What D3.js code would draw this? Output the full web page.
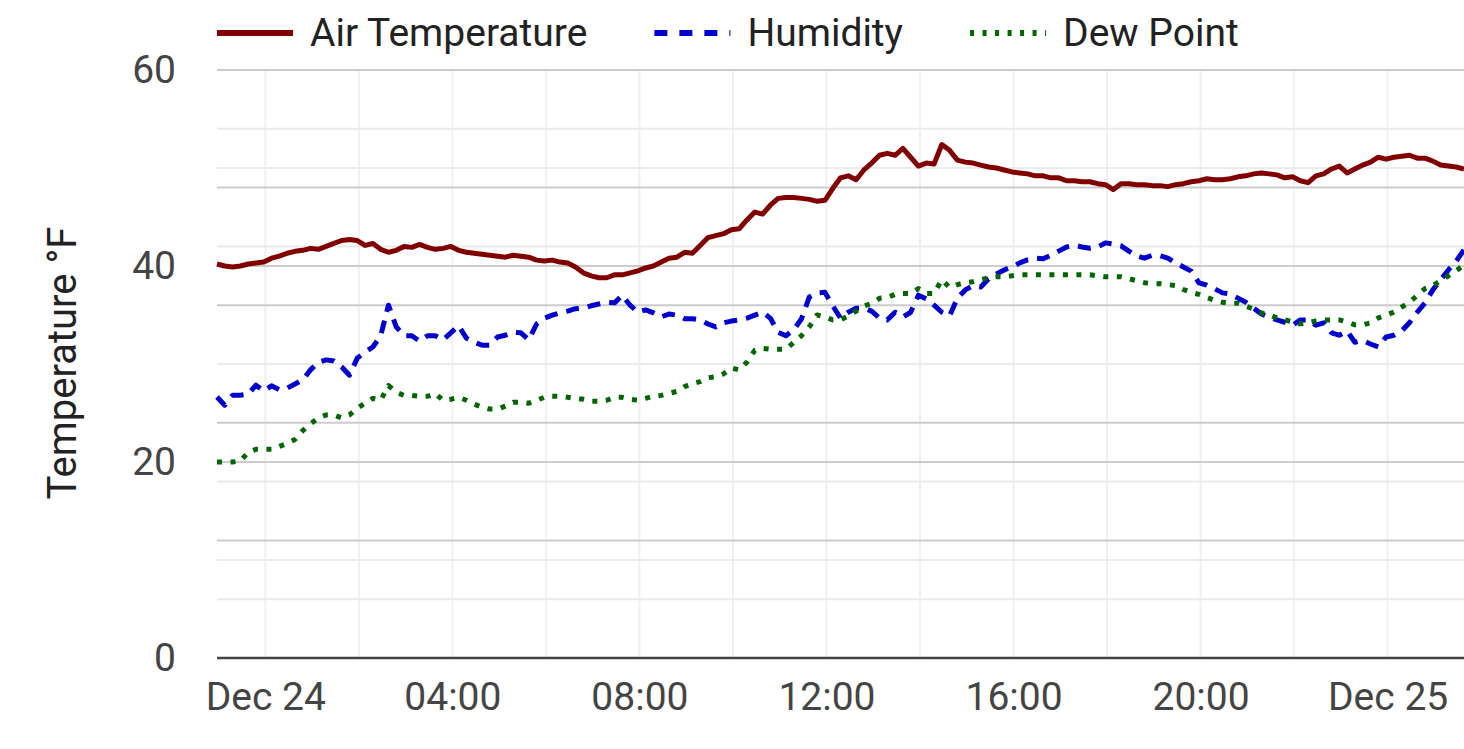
<!DOCTYPE html>
<html><head><meta charset="utf-8">
<script src="https://cdn.jsdelivr.net/npm/d3@7"></script>
<style>body{margin:0;background:#fff;} svg{display:block;font-family:Roboto, "Noto Sans", sans-serif;}</style>
</head><body><svg id="chart" width="1464" height="749"></svg>
<script>
const seriesNames = ["Air Temperature", "Humidity", "Dew Point"];
const startTime = "2023-12-23T22:58:00Z";
const endTime = "2023-12-25T01:38:00Z";
const stepMinutes = 10;

const airTemp = [
40.2,40.0,39.9,40.0,40.2,40.3,40.4,40.8,41.0,41.3,
41.5,41.6,41.8,41.7,42.0,42.3,42.6,42.7,42.6,42.1,
42.3,41.7,41.4,41.6,42.0,41.9,42.2,41.9,41.7,41.8,
42.0,41.6,41.4,41.3,41.2,41.1,41.0,40.9,41.1,41.0,
40.9,40.6,40.5,40.6,40.4,40.3,39.9,39.3,39.0,38.8,
38.8,39.1,39.1,39.3,39.5,39.8,40.0,40.4,40.8,40.9,
41.4,41.3,42.1,42.9,43.1,43.3,43.7,43.8,44.7,45.5,
45.3,46.2,46.9,47.0,47.0,46.9,46.8,46.6,46.7,47.9,
49.0,49.2,48.8,49.8,50.5,51.3,51.5,51.3,52.0,51.1,
50.2,50.5,50.4,52.4,51.8,50.8,50.6,50.5,50.3,50.1,
50.0,49.8,49.6,49.5,49.4,49.2,49.2,49.0,49.0,48.7,
48.7,48.6,48.6,48.4,48.3,47.8,48.4,48.4,48.3,48.3,
48.2,48.2,48.1,48.3,48.4,48.6,48.7,48.9,48.8,48.8,
48.9,49.1,49.2,49.4,49.5,49.4,49.3,49.0,49.1,48.7,
48.5,49.2,49.4,49.9,50.2,49.5,49.9,50.3,50.6,51.1,
50.9,51.1,51.2,51.3,51.0,51.0,50.7,50.3,50.2,50.1,
49.9];

const humidity = [
44.4,43.0,44.7,44.7,44.9,46.4,45.4,46.3,45.6,45.9,
46.6,47.3,49.0,50.3,50.7,50.5,49.5,48.1,51.0,52.0,
52.9,54.8,60.0,56.3,54.8,54.8,53.9,54.8,54.8,54.1,
55.3,56.5,54.4,53.7,53.2,53.2,54.6,54.9,55.4,55.3,
54.1,56.8,57.8,58.3,58.7,59.0,59.4,59.5,59.9,60.2,
60.5,60.4,61.7,60.0,58.8,59.2,58.7,58.0,58.5,58.3,
57.7,57.7,57.5,56.8,56.3,57.0,57.3,57.5,57.8,58.3,
58.8,57.8,55.4,54.8,55.8,57.7,61.4,62.1,62.2,59.9,
57.8,58.8,59.5,59.5,59.0,57.8,57.5,58.8,58.0,58.8,
61.7,61.1,60.0,58.8,58.2,61.2,62.6,63.3,63.1,64.5,
65.3,66.0,66.5,67.2,67.7,68.0,67.9,68.5,69.2,69.9,
70.2,69.9,69.7,69.9,70.6,70.4,70.1,69.2,68.4,68.0,
68.5,68.4,68.0,67.2,66.5,65.8,63.8,63.4,62.8,62.1,
61.9,61.2,60.5,59.5,58.5,58.0,57.5,57.1,56.6,57.5,
57.5,56.6,57.0,55.3,54.9,55.6,53.7,54.0,53.4,52.9,
54.6,54.9,55.6,57.0,58.8,60.4,62.6,64.3,66.0,67.5,
69.4];

const dewPoint = [
20.0,20.0,20.0,20.1,21.0,21.3,21.3,21.3,21.6,21.9,
22.3,23.2,23.9,24.5,24.8,24.8,24.5,24.8,25.5,26.0,
26.5,26.3,27.8,27.1,26.8,26.8,26.7,26.7,27.0,26.3,
26.4,26.6,26.3,25.9,25.6,25.4,25.4,25.7,26.1,26.1,
26.0,26.3,26.6,26.7,26.7,26.6,26.5,26.4,26.2,26.2,
26.3,26.6,26.6,26.4,26.3,26.5,26.7,26.8,27.0,27.2,
27.7,28.0,28.2,28.6,28.7,29.0,29.6,29.4,30.2,31.4,
31.6,31.5,31.5,31.5,32.2,32.9,33.8,35.0,34.8,34.5,
34.5,34.9,35.4,35.9,36.2,36.7,36.8,37.1,37.2,37.2,
37.7,37.2,37.2,38.6,37.8,38.1,38.3,38.4,38.6,38.8,
38.9,38.9,39.0,39.1,39.1,39.1,39.1,39.1,39.1,39.1,
39.1,39.1,39.1,39.0,38.9,38.9,38.9,38.7,38.5,38.3,
38.2,38.2,38.1,38.0,37.6,37.3,37.1,36.8,36.5,36.3,
36.2,36.2,35.9,35.6,35.2,35.0,34.7,34.5,34.3,34.1,
34.2,34.4,34.5,34.5,34.5,34.3,34.0,34.0,34.2,34.7,
35.0,35.3,35.8,36.3,37.0,37.7,38.0,38.5,39.0,39.5,
40.1];

const xTickTimes = ["2023-12-24T00:00:00Z","2023-12-24T04:00:00Z","2023-12-24T08:00:00Z",
  "2023-12-24T12:00:00Z","2023-12-24T16:00:00Z","2023-12-24T20:00:00Z","2023-12-25T00:00:00Z"];
const xTickLabels = ["Dec 24","04:00","08:00","12:00","16:00","20:00","Dec 25"];
const yTicks = [0, 20, 40, 60];
const yMinorTicks = [10, 30, 50];
const humidityTicks = [20, 40, 60, 80, 100];
const humidityMinorTicks = [10, 30, 50, 70, 90];
const yTitle = "Temperature °F";

const colors = ["#800000", "#0000cd", "#006400"];
const dashes = [null, "13,9", "5,8.5"];
const legendDashes = [null, "13,12", "4,8.5"];

(function draw() {
const times = airTemp.map((_, i) => new Date(Date.parse(startTime) + i * stepMinutes * 60000));

const svg = d3.select("#chart");
const pLeft = 217, pRight = 1464, pTop = 70, pBottom = 658;
const x = d3.scaleUtc().domain([new Date(startTime), new Date(endTime)]).range([pLeft, pRight]);
const y = d3.scaleLinear().domain([0, 60]).range([pBottom, pTop]);
const yH = d3.scaleLinear().domain([0, 100]).range([pBottom, pTop]);

// vertical grid (every 2 hours)
svg.append("g").selectAll("line").data(x.ticks(d3.utcHour.every(2))).join("line")
  .attr("x1", d => x(d)).attr("x2", d => x(d)).attr("y1", pTop).attr("y2", pBottom)
  .attr("stroke", "#f0f0f0").attr("stroke-width", 2);

// light horizontal grid
const lightY = yMinorTicks.map(v => y(v)).concat(humidityMinorTicks.map(v => yH(v)));
svg.append("g").selectAll("line").data(lightY).join("line")
  .attr("x1", pLeft).attr("x2", pRight).attr("y1", d => d).attr("y2", d => d)
  .attr("stroke", "#ebebeb").attr("stroke-width", 2);

// dark horizontal grid
const darkY = yTicks.filter(v => v > 0).map(v => y(v)).concat(humidityTicks.map(v => yH(v)));
svg.append("g").selectAll("line").data(darkY).join("line")
  .attr("x1", pLeft).attr("x2", pRight).attr("y1", d => d).attr("y2", d => d)
  .attr("stroke", "#cccccc").attr("stroke-width", 2);

// baseline
svg.append("line").attr("x1", pLeft).attr("x2", pRight).attr("y1", y(0)).attr("y2", y(0))
  .attr("stroke", "#444").attr("stroke-width", 2.5);

// y axis labels
const yAxis = d3.axisLeft(y).tickValues(yTicks).tickSize(0).tickPadding(0);
const gy = svg.append("g").attr("transform", "translate(176,0)").call(yAxis);
gy.select(".domain").remove();
gy.selectAll("text").attr("font-size", 39).attr("fill", "#444").attr("font-family", "Roboto");

// x axis labels
const xAxis = d3.axisBottom(x).tickValues(xTickTimes.map(d => new Date(d)))
  .tickFormat((d, i) => xTickLabels[i]).tickSize(0).tickPadding(0);
const gx = svg.append("g").attr("transform", "translate(0,682)").call(xAxis);
gx.select(".domain").remove();
gx.selectAll("text").attr("font-size", 39).attr("fill", "#444").attr("font-family", "Roboto");

// y title
svg.append("text").attr("transform", "translate(76,363) rotate(-90)")
  .attr("text-anchor", "middle").attr("font-size", 40).attr("fill", "#222").text(yTitle);

// lines
const data = [airTemp, humidity, dewPoint];
const scales = [y, yH, y];
data.forEach((vals, k) => {
  const line = d3.line().x((d, i) => x(times[i])).y(d => scales[k](d));
  svg.append("path").datum(vals).attr("d", line)
    .attr("fill", "none").attr("stroke", colors[k]).attr("stroke-width", 5)
    .attr("stroke-linejoin", "round")
    .attr("stroke-dasharray", dashes[k]);
});

// legend
let lx = pLeft;
seriesNames.forEach((name, k) => {
  const g = svg.append("g");
  g.append("line").attr("x1", lx).attr("x2", lx + 76).attr("y1", 33).attr("y2", 33)
    .attr("stroke", colors[k]).attr("stroke-width", 6).attr("stroke-dasharray", legendDashes[k]);
  const t = g.append("text").attr("x", lx + 93).attr("y", 46).attr("font-size", 39)
    .attr("fill", "#222").text(name);
  lx = lx + 93 + t.node().getComputedTextLength() + 67;
});
})();
</script></body></html>
